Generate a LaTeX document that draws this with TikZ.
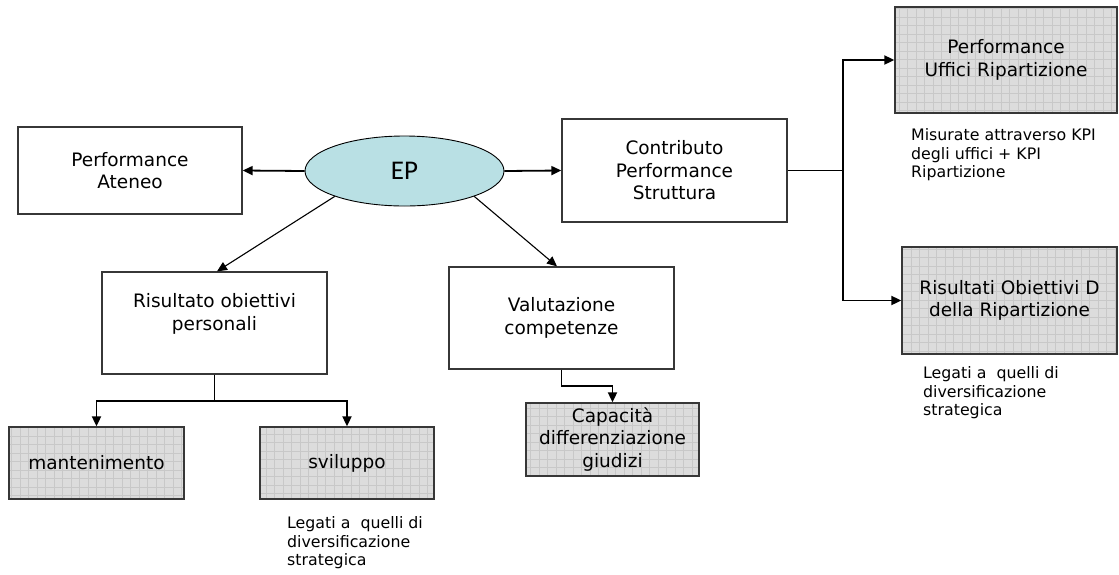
\documentclass[tikz,border=0pt]{standalone}
\usepackage{fontspec}
\setmainfont{DejaVu Sans}
\newfontfamily\epfont{Carlito}
\usetikzlibrary{arrows.meta,shapes.geometric}

\definecolor{epfill}{RGB}{185,224,228}
\definecolor{boxline}{RGB}{55,55,55}
\definecolor{hatchfill}{RGB}{220,220,220}
\definecolor{hatchline}{RGB}{200,200,200}

\newcommand\bxfont{\fontsize{18.5}{22.5}\selectfont}
\newcommand\ntfont{\fontsize{15.8}{18.8}\selectfont}

\begin{document}
\begin{tikzpicture}[x=1pt,y=-1pt,
  box/.style={rectangle, draw=boxline, line width=1.3pt, fill=white,
    inner sep=0pt, align=center, font=\bxfont},
  gridbox/.style={box, fill=hatchfill,
    path picture={\draw[hatchline, line width=0.4pt, step=8.5pt]
      (path picture bounding box.south west) grid (path picture bounding box.north east);}},
  epnode/.style={ellipse, draw=black, line width=0.9pt, fill=epfill,
    minimum width=199pt, minimum height=70pt, inner sep=0pt,
    font=\epfont\fontsize{27}{30}\selectfont},
  txt/.style={inner sep=0pt, align=center, font=\bxfont},
  note/.style={inner sep=0pt, align=left, anchor=north west, font=\ntfont},
  conn/.style={line width=1.8pt, black},
  arr/.style={conn, -{Triangle[length=10pt,width=9pt]}},
  thinarr/.style={line width=1.1pt, black, -{Triangle[length=10pt,width=9pt]}}
]
\useasboundingbox (0,0) rectangle (1119,574);

% central element
\node[epnode] (ep) at (404.5,171) {EP};

% first level
\node[box, minimum width=224pt, minimum height=87pt] (ateneo) at (130,170.5)
  {Performance\\Ateneo};
\node[box, minimum width=225pt, minimum height=103pt] (contributo) at (674.5,170.5)
  {Contributo\\Performance\\Struttura};
\node[box, minimum width=225pt, minimum height=102pt] (risultato) at (214.5,323) {};
\node[txt] (risultato-t) at (214.5,314) {Risultato obiettivi\\personali};
\node[box, minimum width=225pt, minimum height=102pt] (valutazione) at (561.5,318)
  {Valutazione\\competenze};

% shaded outcome boxes
\node[gridbox, minimum width=222pt, minimum height=106pt] (uffici) at (1006,60)
  {Performance\\Uffici Ripartizione};
\node[gridbox, minimum width=215pt, minimum height=107pt] (risultati) at (1009.5,300.5)
  {Risultati Obiettivi D\\della Ripartizione};
\node[gridbox, minimum width=173pt, minimum height=73pt] (capacita) at (612.5,439.5)
  {Capacità\\differenziazione\\giudizi};
\node[gridbox, minimum width=175pt, minimum height=72pt] (mantenimento) at (96.5,463)
  {mantenimento};
\node[gridbox, minimum width=174pt, minimum height=72pt] (sviluppo) at (347,463)
  {sviluppo};

% notes
\node[note] (note-uffici) at (911,128)
  {Misurate attraverso KPI\\degli uffici + KPI\\Ripartizione};
\node[note] (note-risultati) at (923,366)
  {Legati a~ quelli di\\diversificazione\\strategica};
\node[note] (note-sviluppo) at (287,516)
  {Legati a~ quelli di\\diversificazione\\strategica};

% junction points
\coordinate (jr) at (843,170.5);
\coordinate (jl) at (214.5,401);
\coordinate (jv) at (561.5,386);

% connectors
\draw[arr] (ep.west) -- (ateneo.east);
\draw[arr] (ep.east) -- (contributo.west);
\draw[thinarr] (ep.-160) -- ([xshift=2.5pt]risultato.north);
\draw[thinarr] (ep.-20) -- ([xshift=-4.5pt]valutazione.north);

\draw[conn] (contributo.east) -- (jr);
\draw[arr] (jr) |- (uffici.west);
\draw[arr] (jr) |- (risultati.west);

\draw[conn] (risultato.south) -- (jl);
\draw[arr] (jl) -| (mantenimento.north);
\draw[arr] (jl) -| (sviluppo.north);

\draw[arr] (valutazione.south) -- (jv) -| (capacita.north);
\end{tikzpicture}
\end{document}
